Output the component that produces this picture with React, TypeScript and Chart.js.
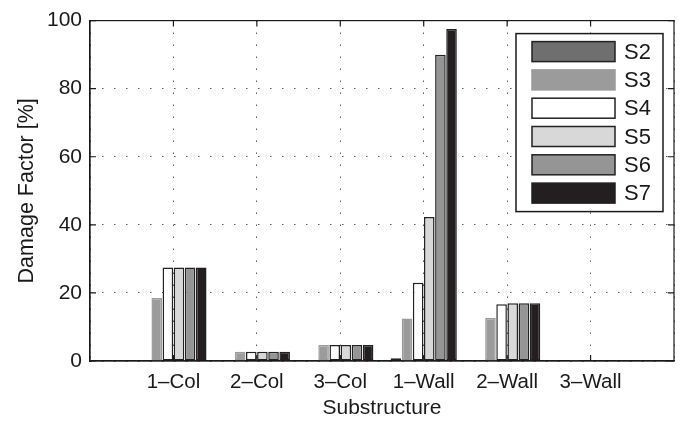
import React, { useEffect, useRef } from "react";
import { Chart, registerables } from "chart.js";

Chart.register(...registerables);

const categories = ["1–Col", "2–Col", "3–Col", "1–Wall", "2–Wall", "3–Wall"];
const seriesNames = ["S2", "S3", "S4", "S5", "S6", "S7"];
const s2 = [0.3, 0.3, 0.3, 0.8, 0.3, 0];
const s3 = [18.5, 2.7, 4.7, 12.5, 12.6, 0.3];
const s4 = [27.5, 2.7, 4.7, 23, 16.7, 0];
const s5 = [27.5, 2.7, 4.7, 42.3, 17, 0];
const s6 = [27.5, 2.7, 4.7, 90, 17, 0];
const s7 = [27.5, 2.7, 4.7, 97.5, 17, 0];
const yTicks = [0, 20, 40, 60, 80, 100];

const fills = ["#6f6f6f", "#9b9b9b", "#ffffff", "#d8d8d8", "#959595", "#231f20"];
const borders = ["#222", "#9b9b9b", "#222", "#222", "#222", "#231f20"];

const FONT = "'Liberation Sans', Arial, Helvetica, sans-serif";

const boxPlugin = {
  id: "boxPlugin",
  afterDatasetsDraw(chart: any) {
    const { ctx, chartArea: a, scales } = chart;
    ctx.save();
    ctx.strokeStyle = "#1a1a1a";
    ctx.lineWidth = 1.2;
    ctx.strokeRect(a.left, a.top, a.right - a.left, a.bottom - a.top);
    const tl = 6;
    ctx.beginPath();
    const xs = scales.x;
    for (let i = 1; i <= categories.length; i++) {
      const px = xs.getPixelForValue(i);
      ctx.moveTo(px, a.bottom);
      ctx.lineTo(px, a.bottom - tl);
      ctx.moveTo(px, a.top);
      ctx.lineTo(px, a.top + tl);
    }
    const ys = scales.y;
    for (const v of yTicks) {
      const py = ys.getPixelForValue(v);
      ctx.moveTo(a.left, py);
      ctx.lineTo(a.left + tl, py);
      ctx.moveTo(a.right, py);
      ctx.lineTo(a.right - tl, py);
    }
    ctx.stroke();

    // legend
    const bx = a.right - 158;
    const by = a.top + 13;
    const bw = 147;
    const bh = 178;
    ctx.fillStyle = "#fff";
    ctx.fillRect(bx, by, bw, bh);
    ctx.lineWidth = 1.5;
    ctx.strokeStyle = "#1a1a1a";
    ctx.strokeRect(bx, by, bw, bh);
    ctx.font = `22px ${FONT}`;
    ctx.textBaseline = "middle";
    chart.data.datasets.forEach((ds: any, i: number) => {
      const px = bx + 16;
      const py = by + 8 + i * 28.3;
      ctx.fillStyle = ds.backgroundColor;
      ctx.fillRect(px, py, 83, 20);
      ctx.strokeStyle = ds.borderColor;
      ctx.lineWidth = 1.5;
      ctx.strokeRect(px, py, 83, 20);
      ctx.fillStyle = "#1a1a1a";
      ctx.fillText(ds.label, px + 92, py + 11);
    });
    ctx.restore();
  },
};

export default function App() {
  const ref = useRef<HTMLCanvasElement>(null);
  useEffect(() => {
    if (!ref.current) return;
    const series = [s2, s3, s4, s5, s6, s7];
    const labels = ["", ...categories, ""];
    const chart = new Chart(ref.current, {
      type: "bar",
      data: {
        labels,
        datasets: series.map((d, i) => ({
          label: seriesNames[i],
          data: [null, ...d, null] as any,
          backgroundColor: fills[i],
          borderColor: borders[i],
          borderWidth: 1.5,
          borderSkipped: false,
          categoryPercentage: 0.8,
          barPercentage: 0.95,
        })),
      },
      options: {
        responsive: false,
        animation: false,
        layout: { padding: { top: 20, right: 6, left: 0, bottom: 0 } },
        plugins: { legend: { display: false }, tooltip: { enabled: false } },
        scales: {
          x: {
            offset: false,
            grid: { color: "#333", lineWidth: 1, drawTicks: false, offset: false },
            border: { display: true, color: "#1a1a1a", width: 1.2, dash: [1.2, 10.8] },
            ticks: {
              color: "#1a1a1a",
              font: { family: FONT, size: 20.5 },
              padding: 9,
              maxRotation: 0,
              autoSkip: false,
            },
            title: {
              display: true,
              text: "Substructure",
              color: "#1a1a1a",
              font: { family: FONT, size: 21 },
              padding: { top: 0, bottom: 0 },
            },
            afterFit: (s: any) => {
              s.height = 60;
            },
          },
          y: {
            min: 0,
            max: 100,
            afterBuildTicks: (s: any) => {
              s.ticks = yTicks.map((v) => ({ value: v }));
            },
            grid: { color: "#333", lineWidth: 1, drawTicks: false },
            border: { display: true, color: "#1a1a1a", width: 1.2, dash: [1.2, 10.8] },
            ticks: {
              color: "#1a1a1a",
              font: { family: FONT, size: 21 },
              padding: 8,
            },
            title: {
              display: true,
              text: "Damage Factor [%]",
              color: "#1a1a1a",
              font: { family: FONT, size: 21.5 },
              padding: { top: 14, bottom: 0 },
            },
            afterFit: (s: any) => {
              s.width = 90;
            },
          },
        },
      },
      plugins: [boxPlugin],
    });
    return () => chart.destroy();
  }, []);
  return (
    <div style={{ position: "absolute", left: 0, top: 0, width: 683, height: 421, background: "#fff" }}>
      <canvas ref={ref} width={683} height={421} />
    </div>
  );
}
